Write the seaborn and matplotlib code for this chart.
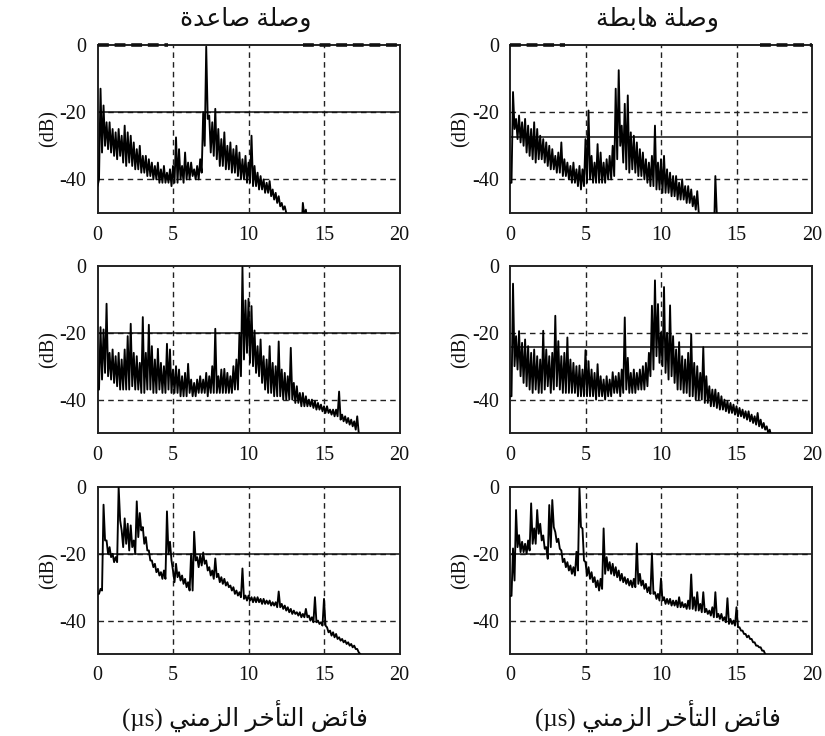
import numpy as np
import pandas as pd
import matplotlib
matplotlib.use("Agg")
import matplotlib.pyplot as plt
import seaborn as sns

# ---------------- data ----------------
STEP = 0.2

# row 1, uplink (left) : upper / lower envelope of the noisy trace, dB
ul1_up = [-42,-13,-18,-23,-23,-25,-26,-25,-27,-24,-26,-27,-29,-31,-30,-33,-33,-34,-35,-36,-35,-37,-36,-38,-37,-36,-27.5,-31,-36,-32,-35,-35,-37,-36,-34,-20,-0.5,-21,-23,-19,-25,-28,-26,-30,-29,-31,-30,-32,-34,-33,-35,-27,-36,-38,-39,-40,-41,-40.5,-43,-44,-45,-47,-48,-52,-55,-55,-55,-53,-47,-49,-56]
ul1_lo = [-40,-32,-30,-31,-32,-33,-34,-33,-35,-36,-35,-36,-37,-37,-38,-38,-39,-39,-40,-40,-41,-41,-41,-41,-42,-41,-41,-40,-41,-40,-40,-39,-40,-40,-38,-30,-22,-32,-33,-34,-36,-36,-37,-37,-38,-38,-39,-40,-40,-41,-41,-42,-42,-43,-43,-44,-44,-45,-46,-47,-48,-49,-50,-55,-58,-58,-58,-56,-51,-53,-60]
# row 1, downlink (right)
dl1_up = [-41,-14,-22,-21,-23,-22,-24,-25,-23,-25,-27,-28,-29,-30,-31,-33,-32,-29,-34,-35,-36,-35,-37,-36,-37,-28,-19.5,-33,-35,-29.5,-32,-35,-34,-33,-30,-13,-7.5,-24,-17.5,-15,-26,-27,-29,-31,-32,-34,-35,-33,-24,-35,-34,-33,-37,-38,-39,-39,-41,-40,-42,-42,-43,-45,-43.5,-52,-55,-55,-55,-55,-39,-56]
dl1_lo = [-41,-25,-28,-29,-30,-32,-33,-34,-35,-34,-34,-35,-36,-37,-37,-38,-38,-39,-39,-40,-41,-41,-42,-43,-42,-41,-40,-41,-41,-41,-41,-41,-40,-40,-39,-34,-30,-35,-37,-38,-37,-38,-39,-39,-40,-41,-42,-42,-43,-43,-44,-44,-44,-45,-45,-46,-46,-46,-47,-47,-48,-49,-50,-56,-58,-58,-58,-58,-51,-58]
# row 2, uplink
ul2_up = [-37,-18.3,-19,-11.3,-26,-25,-27,-26,-28,-25,-21,-17.3,-26,-27,-29,-15.3,-26,-17.6,-24,-28,-24.8,-29,-30,-23.3,-25,-31,-30,-31,-33,-32,-29.3,-34,-35,-34,-33,-34,-32,-33,-30,-18.8,-33,-31,-30.8,-32,-33,-30,-28,-20,-0.3,-10.3,-9.8,-12,-19.3,-24,-22,-27,-28,-24,-29,-30,-22.6,-31,-32,-33,-24.5,-35,-36,-38,-38,-39,-40,-40,-40.5,-41,-41.5,-42,-42,-43,-43,-43,-37.6,-44.5,-45,-45.5,-46,-46.5,-45,-51,-55]
ul2_lo = [-37,-34,-32,-33,-34,-35,-36,-37,-37,-37,-37,-36,-37,-37,-38,-38,-37,-37,-38,-38,-37,-38,-38,-37,-38,-38,-38,-39,-39,-39,-38,-39,-39,-38,-38,-38,-39,-38,-38,-38,-38,-38,-38,-38,-38,-37,-37,-33,-28,-26,-29,-30,-32,-33,-35,-37,-38,-38,-39,-39,-39,-40,-40,-40,-40,-41,-41,-42,-42,-42,-42,-42.5,-43,-43,-43.5,-44,-44,-44.5,-45,-45,-46,-46.5,-47,-47.5,-48,-49,-50,-53,-58]
# row 2, downlink
dl2_up = [-39,-5.3,-21,-19.5,-23,-22,-24,-26,-25,-27,-28,-19.4,-25,-27,-26,-14.9,-22.5,-27,-26,-21.4,-28,-29,-30,-29.8,-31,-25.2,-28.5,-31,-32,-29.4,-33,-34,-33,-34,-31.8,-33,-32,-31,-15.4,-27.5,-32,-31,-32,-31,-30,-29,-26,-11.9,-4.3,-11.4,-19.9,-6.3,-20,-11.8,-21,-25,-22.8,-27,-28,-26,-20.4,-29,-30,-32,-24.3,-33,-36,-37,-37,-38,-39,-40,-40.5,-41,-41.5,-42,-42.5,-43,-43.5,-43.5,-44.5,-45,-44,-46,-47,-48,-49,-55]
dl2_lo = [-39,-30,-31,-33,-35,-36,-37,-38,-37,-38,-38,-37,-36,-38,-37,-36,-37,-38,-38,-38,-38,-38,-39,-39,-39,-39,-39,-39,-40,-39,-39,-40,-39,-39,-38,-38,-39,-38,-37,-38,-38,-38,-37,-37,-37,-36,-33,-31,-27,-29,-30,-32,-34,-33,-35,-37,-37,-38,-38,-39,-39,-40,-40,-40,-41,-41,-42,-42,-42.5,-43,-43,-43.5,-44,-44,-44.5,-45,-45,-45.5,-46,-46.5,-47,-47.5,-48,-48.5,-49,-50,-51,-58]
# row 3, uplink
ul3_up = [-32,-30.5,-5.3,-16,-18,-20,-21,0,-13,-9.4,-11,-11.5,-16,-4.3,-7.8,-12,-15,-19,-22,-23,-24.5,-25.5,-25,-7.3,-16.4,-25,-23,-25.5,-26.5,-27.5,-28.5,-20,-13.4,-21,-20.5,-19.6,-22,-24,-25,-21.4,-26,-27,-27.5,-28.5,-29.5,-30,-31,-31.5,-24.4,-32.5,-32.5,-33,-33,-33,-33.5,-33.5,-34,-34,-34.5,-34.5,-31.3,-35,-35.5,-36,-36.5,-37,-37.5,-37.5,-38,-36.5,-38.5,-39,-33,-40,-40.5,-33.5,-42,-43,-43.5,-44,-45,-45.5,-46,-46.5,-47,-47.5,-48.5,-50,-56]
ul3_lo = [-32,-31,-16,-20,-21,-22.5,-22.5,-10,-18,-17,-19,-18,-20,-15,-13,-17,-19,-22,-24,-25.5,-26.5,-27.5,-27.5,-20,-22,-28.5,-27,-28,-29,-30,-31,-31,-22,-24,-23.5,-23,-25,-26.5,-27.5,-27,-28.5,-29,-29.5,-30,-31,-32,-32.5,-33,-33.5,-34,-34,-34.5,-34.5,-34.5,-35,-35,-35,-35.5,-35.5,-36,-36,-36.5,-37,-37.5,-38,-38,-38.5,-39,-39,-39,-40,-40.5,-40.5,-41,-41.5,-41.5,-43.5,-44.5,-45,-45.5,-46,-46.5,-47,-47.5,-48,-48.5,-49.5,-51,-58]
# row 3, downlink
dl3_up = [-32.6,-18.4,-6.9,-14.4,-16.4,-17,-16,-4.9,-12.4,-6.9,-11,-14.5,-18,-5.4,-3.9,-13.5,-15.5,-19,-21.5,-22.5,-23.5,-24,-19.4,-0.3,-12.4,-22.5,-24,-25.5,-27,-28,-27.5,-12.4,-21,-22.5,-23,-24,-25,-26,-27,-27.5,-28,-27.5,-16.9,-26,-28,-29,-30,-19.9,-31.5,-32,-27.4,-33,-33.5,-33.5,-34,-34,-33,-34.5,-35,-34,-26.2,-33,-31.5,-35,-31.5,-36.5,-37,-36,-31.5,-38,-38,-39,-33.3,-39.5,-40,-36,-42,-43,-44,-44.5,-45.5,-46.5,-47.5,-48,-49,-50.5,-56]
dl3_lo = [-32.6,-28,-18,-19.5,-19.5,-20,-19,-17,-17,-14,-16,-18.5,-21.5,-18,-12,-16.5,-18.5,-22.5,-24,-25,-26,-26.5,-25,-12,-22,-26.5,-27.5,-28.5,-30,-31,-30.5,-26,-25,-26,-26.5,-27,-28,-28.5,-29,-29.5,-30,-30,-29,-29.5,-30.5,-31.5,-32,-32,-33.5,-34,-34,-35,-35,-35.5,-35.5,-36,-36,-36,-36.5,-36.5,-36.5,-37,-37,-37.5,-37.5,-38,-38.5,-39,-39,-39.5,-40,-40.5,-41,-41,-41.5,-42,-43,-44,-45,-45.5,-46.5,-47.5,-48,-49,-50,-52,-58]

# detection threshold per panel (dB), order: row1 L, row1 R, row2 L, row2 R, row3 L, row3 R
thresholds = [-20, -27.3, -20, -24.3, -20, -20]

x_ticks = [0, 5, 10, 15, 20]
y_ticks = [0, -20, -40]
grid_x = [5, 10, 15]
grid_y = [-20, -40]

col_titles = ["وصلة صاعدة", "وصلة هابطة"]
x_label = "فائض التأخر الزمني (µs)"
y_label = "(dB)"

# dashed segments along the 0 dB edge (top row)
top_edge_segments = [[(0, 4.64), (13.6, 20)], [(0, 3.65), (16.55, 20)]]

# ---------------- minimal Arabic shaping (matplotlib has none) ----------------
FORMS = {
    "ا": (0xFE8D, 0xFE8E), "أ": (0xFE83, 0xFE84), "ة": (0xFE93, 0xFE94),
    "د": (0xFEA9, 0xFEAA), "ر": (0xFEAD, 0xFEAE), "ز": (0xFEAF, 0xFEB0),
    "و": (0xFEED, 0xFEEE),
    "ب": (0xFE8F, 0xFE90, 0xFE91, 0xFE92), "ت": (0xFE95, 0xFE96, 0xFE97, 0xFE98),
    "خ": (0xFEA5, 0xFEA6, 0xFEA7, 0xFEA8), "ص": (0xFEB9, 0xFEBA, 0xFEBB, 0xFEBC),
    "ض": (0xFEBD, 0xFEBE, 0xFEBF, 0xFEC0), "ط": (0xFEC1, 0xFEC2, 0xFEC3, 0xFEC4),
    "ع": (0xFEC9, 0xFECA, 0xFECB, 0xFECC), "ف": (0xFED1, 0xFED2, 0xFED3, 0xFED4),
    "ل": (0xFEDD, 0xFEDE, 0xFEDF, 0xFEE0), "م": (0xFEE1, 0xFEE2, 0xFEE3, 0xFEE4),
    "ن": (0xFEE5, 0xFEE6, 0xFEE7, 0xFEE8), "ه": (0xFEE9, 0xFEEA, 0xFEEB, 0xFEEC),
    "ي": (0xFEF1, 0xFEF2, 0xFEF3, 0xFEF4), "ئ": (0xFE89, 0xFE8A, 0xFE8B, 0xFE8C),
}


def shape_ar(text):
    out = []
    for w in text.split(" "):
        if any(ch in FORMS for ch in w):
            shaped = []
            for i, ch in enumerate(w):
                if ch not in FORMS:
                    shaped.append(ch)
                    continue
                f = FORMS[ch]
                prev = w[i - 1] if i > 0 else ""
                nxt = w[i + 1] if i + 1 < len(w) else ""
                pj = prev in FORMS and len(FORMS[prev]) == 4
                nj = nxt in FORMS and len(f) == 4
                if pj and nj:
                    s = f[3]
                elif pj:
                    s = f[1]
                elif nj:
                    s = f[2]
                else:
                    s = f[0]
                shaped.append(chr(s))
            out.append("".join(reversed(shaped)))
        else:
            out.append(w)
    return " ".join(reversed(out))


# ---------------- figure ----------------
sns.set_style("white")
plt.rcParams["font.family"] = ["Liberation Serif", "DejaVu Sans"]
plt.rcParams["axes.unicode_minus"] = False

fig = plt.figure(figsize=(8.25, 7.36), dpi=100)

W = 825.0
H = 736.0
col_x = [97.5, 510.0]
ax_w = 302.0
row_y = [(45, 213), (266, 433), (487, 654)]

panels = [(ul1_up, ul1_lo), (dl1_up, dl1_lo),
          (ul2_up, ul2_lo), (dl2_up, dl2_lo),
          (ul3_up, ul3_lo), (dl3_up, dl3_lo)]

for k, (up, lo) in enumerate(panels):
    r, c = divmod(k, 2)
    top, bot = row_y[r]
    ax = fig.add_axes([col_x[c] / W, 1 - bot / H, ax_w / W, (bot - top) / H])
    n = len(up)
    t = np.arange(n) * STEP
    xs = np.empty(2 * n)
    ys = np.empty(2 * n)
    xs[0::2] = t
    xs[1::2] = t + STEP / 2
    ys[0::2] = up
    ys[1::2] = lo
    df = pd.DataFrame({"delay": xs, "db": ys})

    for gx in grid_x:
        ax.axvline(gx, color="#222222", lw=1.0, linestyle=(0, (4, 3)), zorder=1)
    for gy in grid_y:
        ax.axhline(gy, color="#222222", lw=1.0, linestyle=(0, (4, 3)), zorder=1)
    ax.axhline(thresholds[k], color="#111111", lw=1.1, zorder=2)

    sns.lineplot(data=df, x="delay", y="db", ax=ax, color="black", lw=1.35,
                 estimator=None, sort=False, zorder=3)

    if r == 0:
        for a, b in top_edge_segments[c]:
            ax.plot([a, b], [0, 0], color="#111111", lw=2.6,
                    linestyle=(0, (3, 1.6)), clip_on=False, zorder=4)

    ax.set_xlim(0, 20)
    ax.set_ylim(-50, 0)
    ax.set_xticks(x_ticks)
    ax.set_xticklabels([str(v) for v in x_ticks])
    ax.set_yticks(y_ticks)
    ax.set_yticklabels([str(v) for v in y_ticks])
    ax.tick_params(axis="both", length=0, labelsize=14.5, colors="#111111")
    ax.tick_params(axis="x", pad=9)
    ax.tick_params(axis="y", pad=8)
    ax.set_xlabel("")
    ax.set_ylabel(y_label, fontsize=14.5, labelpad=1, color="#111111")
    for sp in ax.spines.values():
        sp.set_color("#222222")
        sp.set_linewidth(1.4)
        sp.set_visible(True)

# column titles and x labels
for c in range(2):
    cx = (col_x[c] + ax_w / 2) / W
    fig.text(cx - 0.004, 1 - 19 / H, shape_ar(col_titles[c]), ha="center", va="center",
             fontsize=18, color="#111111")
    fig.text(cx - 0.004, 1 - 716 / H, shape_ar(x_label), ha="center", va="center",
             fontsize=18, color="#111111")

fig.savefig("out.png", dpi=100, facecolor="white")
